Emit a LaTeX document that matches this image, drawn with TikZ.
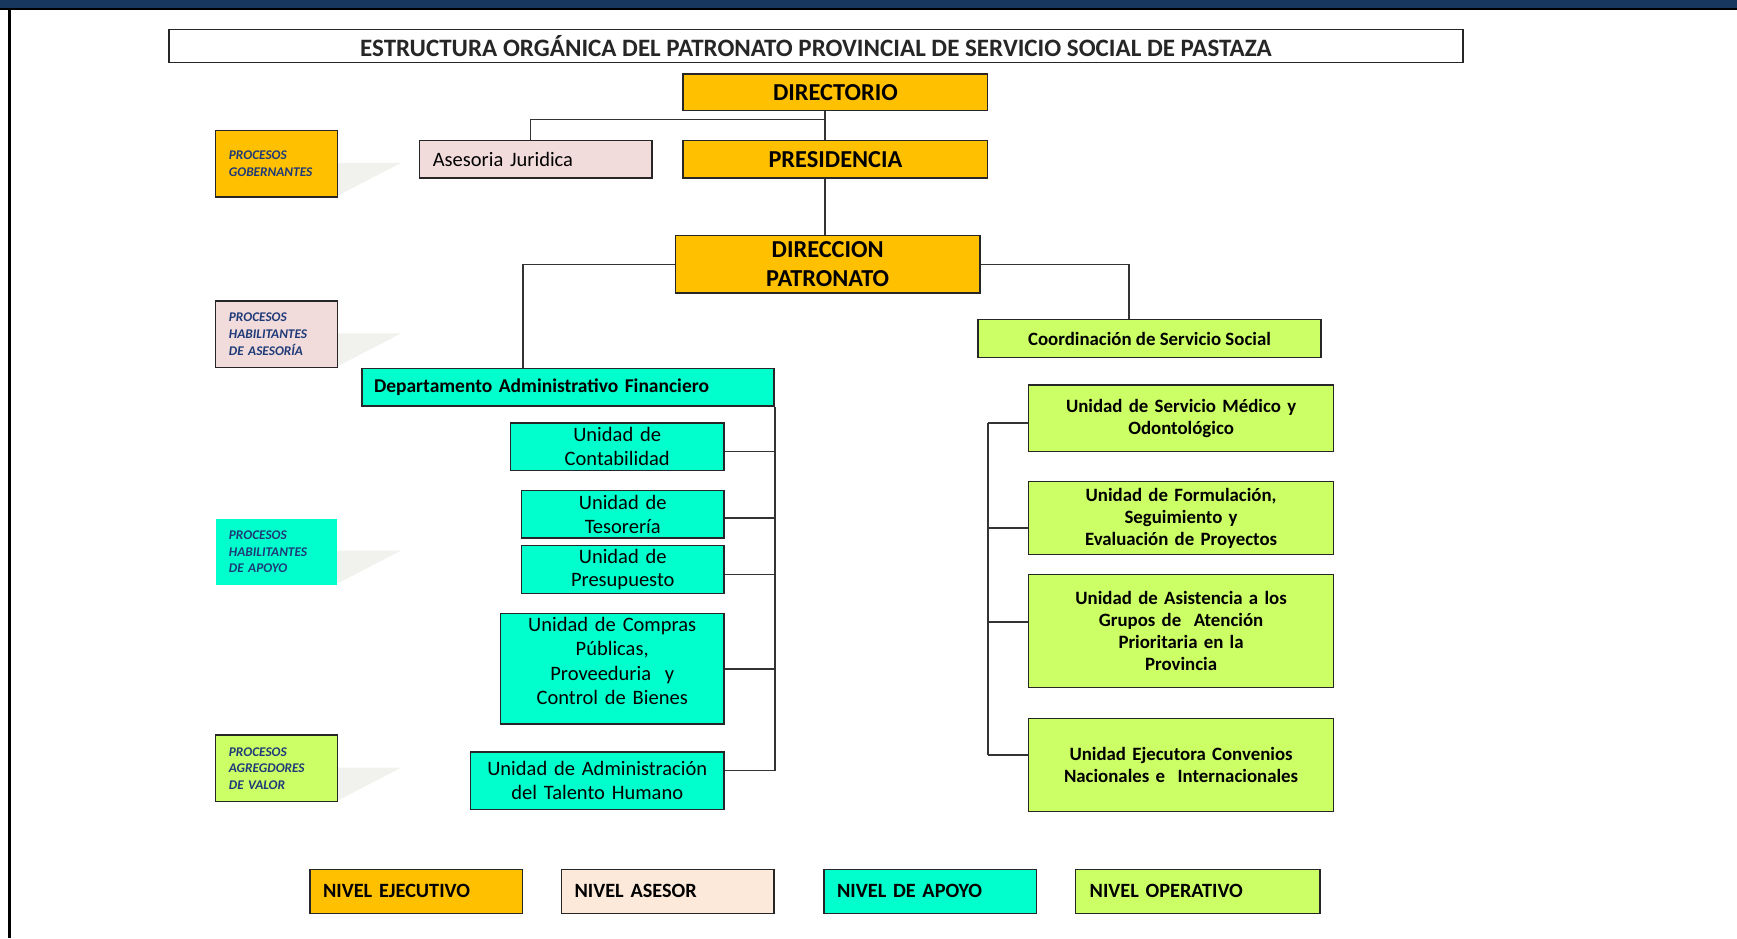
\documentclass[tikz,border=0pt]{standalone}
\usepackage{fontspec}
\setmainfont{Carlito}
\usetikzlibrary{calc}
\definecolor{orng}{HTML}{FFC000}
\definecolor{cyn}{HTML}{00FFCC}
\definecolor{grn}{HTML}{CCFF66}
\definecolor{pnk}{HTML}{F2DCDB}
\definecolor{pch}{HTML}{FDE9D9}
\definecolor{navyb}{HTML}{17375E}
\definecolor{legtxt}{HTML}{1F3A78}
\definecolor{wedge}{HTML}{F1F1EE}
\newcommand\fbig{\fontsize{22}{26}\selectfont\bfseries}
\newcommand\fttl{\fontsize{22.6}{24}\selectfont\bfseries}
\newcommand\fmid{\fontsize{17}{20}\selectfont\bfseries}
\newcommand\fdep{\fontsize{17.6}{20}\selectfont\bfseries}
\newcommand\freg{\fontsize{18.5}{21.5}\selectfont}
\newcommand\fcmp{\fontsize{18.5}{22}\selectfont}
\newcommand\fleg{\fontsize{12}{15}\selectfont\bfseries\itshape\color{legtxt}}
\newcommand\fniv{\fontsize{18.3}{20}\selectfont\bfseries}
\begin{document}
\begin{tikzpicture}[x=1pt,y=-1pt,
  box/.style={draw=black!85, line width=1.3pt, inner sep=0pt, anchor=north west, align=center},
  lbox/.style={box, align=left, inner xsep=12pt},
  conn/.style={draw=black!80, line width=1.5pt}]
\useasboundingbox (0,0) rectangle (1568,847);
\fill[white] (0,0) rectangle (1568,847);
\fill[navyb] (0,0) rectangle (1568,7);
\fill[black] (0,7) rectangle (1568,8.6);
\fill[black] (7.6,8.6) rectangle (9.7,847);

% title
\node[box, line width=1.1pt, minimum width=1168pt, minimum height=30pt, font=\fttl, text=black!85] (title) at (152,26)
  {ESTRUCTURA ORGÁNICA DEL PATRONATO PROVINCIAL DE SERVICIO SOCIAL DE PASTAZA};

% executive
\node[box, fill=orng, minimum width=275pt, minimum height=33pt, font=\fbig] (dir) at (616,66) {DIRECTORIO};
\node[box, fill=orng, minimum width=275pt, minimum height=34pt, font=\fbig] (pres) at (616,126) {PRESIDENCIA};
\node[lbox, fill=pnk, minimum width=210pt, minimum height=34pt, text width=186pt, font=\freg] (ases) at (378,126) {Asesoria Juridica};
\node[box, fill=orng, minimum width=275pt, minimum height=52pt, text width=275pt, font=\fbig] (dirp) at (609,212) {DIRECCION\\PATRONATO};
\node[box, fill=grn, minimum width=310pt, minimum height=34pt, font=\fmid] (coord) at (882,288) {Coordinación de Servicio Social};
\node[lbox, fill=cyn, minimum width=372pt, minimum height=34pt, text width=350pt, inner xsep=11pt, font=\fdep] (dept) at (326,332) {Departamento Administrativo Financiero};

% support units
\node[box, fill=cyn, minimum width=193pt, minimum height=43pt, text width=193pt, font=\freg] (contab) at (460,381) {Unidad de\\Contabilidad};
\node[box, fill=cyn, minimum width=183pt, minimum height=43pt, text width=183pt, font=\freg] (tes) at (470,442) {Unidad de\\Tesorería};
\node[box, fill=cyn, minimum width=183pt, minimum height=43pt, text width=183pt, font=\freg] (presu) at (470,492) {Unidad de\\Presupuesto};
\node[box, fill=cyn, minimum width=202pt, minimum height=100pt, text width=202pt, font=\fcmp] (comp) at (451,553) {Unidad de Compras\\Públicas,\\Proveeduria\ \ y\\Control de Bienes\\[-8pt]\mbox{}};
\node[box, fill=cyn, minimum width=229pt, minimum height=52pt, text width=229pt, font=\freg] (tal) at (424,678) {Unidad de Administración\\del Talento Humano};

% operative units
\node[box, fill=grn, minimum width=275pt, minimum height=60pt, text width=275pt, font=\fmid] (med) at (928,347) {Unidad de Servicio Médico y\\Odontológico};
\node[box, fill=grn, minimum width=275pt, minimum height=66pt, text width=275pt, font=\fmid] (form) at (928,434) {Unidad de Formulación,\\Seguimiento y\\Evaluación de Proyectos};
\node[box, fill=grn, minimum width=275pt, minimum height=102pt, text width=275pt, font=\fmid] (asis) at (928,518) {Unidad de Asistencia a los\\Grupos de\ \ Atención\\Prioritaria en la\\Provincia};
\node[box, fill=grn, minimum width=275pt, minimum height=84pt, text width=275pt, font=\fmid] (ejec) at (928,648) {Unidad Ejecutora Convenios\\Nacionales e\ \ Internacionales};

% legend wedges
\foreach \t in {147,301,497,693}{
  \fill[wedge] (304,\t) -- (362,\t) -- (304,\t+30) -- cycle;
}
% legend boxes
\node[lbox, fill=orng, minimum width=110pt, minimum height=60pt, text width=86pt, font=\fleg] (lg1) at (194,117) {PROCESOS\\GOBERNANTES};
\node[lbox, fill=pnk, minimum width=110pt, minimum height=60pt, text width=86pt, font=\fleg] (lg2) at (194,271) {PROCESOS\\HABILITANTES\\DE ASESORÍA};
\node[lbox, draw=none, fill=cyn, minimum width=110pt, minimum height=59pt, text width=86pt, font=\fleg] (lg3) at (194,468) {PROCESOS\\HABILITANTES\\DE APOYO};
\node[lbox, fill=grn, minimum width=110pt, minimum height=60pt, text width=86pt, font=\fleg] (lg4) at (194,663) {PROCESOS\\AGREGDORES\\DE VALOR};

% bottom levels
\node[lbox, fill=orng, minimum width=192pt, minimum height=40pt, text width=168pt, font=\fniv] (n1) at (279,784) {NIVEL EJECUTIVO};
\node[lbox, fill=pch, minimum width=192pt, minimum height=40pt, text width=168pt, font=\fniv] (n2) at (506,784) {NIVEL ASESOR};
\node[lbox, fill=cyn, minimum width=192pt, minimum height=40pt, text width=168pt, font=\fniv] (n3) at (743,784) {NIVEL DE APOYO};
\node[lbox, fill=grn, minimum width=220pt, minimum height=40pt, text width=195pt, inner xsep=13pt, font=\fniv] (n4) at (970,784) {NIVEL OPERATIVO};

% connectors
\coordinate (cx) at (745,0);
\coordinate (ax) at (479,0);
\coordinate (lx) at (472,0);
\coordinate (rx) at (1019,0);
\coordinate (bx) at (892,0);
\coordinate (j1) at (745,108);
\draw[conn] (dir.south -| cx) -- (pres.north -| cx);
\draw[conn] (j1) -- (j1 -| ax) -- (ases.north -| ax);
\draw[conn] (pres.south -| cx) -- (dirp.north -| cx);
\draw[conn] (dirp.west) -- (dirp.west -| lx) -- (dept.north -| lx);
\draw[conn] (dirp.east) -- (dirp.east -| rx) -- (coord.north -| rx);

\foreach \n/\s in {contab/-4.5, tes/-3.5, presu/-4.5, comp/0, tal/9}{
  \coordinate (c\n) at ([yshift=\s pt]\n.east);
  \draw[conn] (c\n) -- (c\n -| dept.east);
}
\draw[conn] (dept.south east) -- (ctal -| dept.east);

\foreach \n/\s in {med/-4, form/-9, asis/8, ejec/9}{
  \coordinate (c\n) at ([yshift=\s pt]\n.west);
  \draw[conn] (c\n) -- (c\n -| bx);
}
\draw[conn] (cmed -| bx) -- (cejec -| bx);
\end{tikzpicture}
\end{document}
